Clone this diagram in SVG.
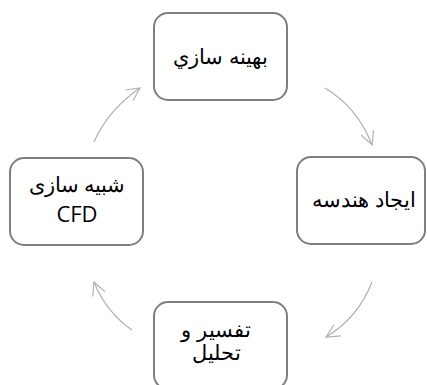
<svg xmlns="http://www.w3.org/2000/svg" width="427" height="385" viewBox="0 0 427 385">
<style>
.box{fill:#fff;stroke:#7f7f7f;stroke-width:2}
.t{font-family:"Liberation Sans",Arial,"Noto Sans",sans-serif;font-size:21px;fill:#000;text-anchor:middle}
.e{font-family:"Open Sans","Liberation Sans",sans-serif;font-size:22px;fill:#000;text-anchor:middle}
.c{fill:none;stroke:#b0b0b0;stroke-width:1.2;marker-end:url(#ah)}
</style>
<defs>
<marker id="ah" viewBox="-14 -8 16 16" markerWidth="16" markerHeight="16" refX="0" refY="0" orient="auto" markerUnits="userSpaceOnUse">
<path d="M-13 -6.5 L0 0 L-13 6.5" fill="none" stroke="#b0b0b0" stroke-width="1.2"/>
</marker>
</defs>
<rect width="427" height="385" fill="#fff"/>
<g id="connectors">
<path class="c" d="M94 142 Q108 110 140 88"/>
<path class="c" d="M325 88 Q358 108 372 145"/>
<path class="c" d="M372 282 Q358 318 326 337"/>
<path class="c" d="M132 330 Q106 312 94 282"/>
</g>
<g id="n1"><rect class="box" x="154" y="13" width="133" height="87" rx="14"/><text class="t" x="220.5" y="64" direction="rtl" unicode-bidi="embed">بهينه سازي</text></g>
<g id="n2"><rect class="box" x="297" y="157" width="128" height="87" rx="14"/><text class="t" x="364" y="207" direction="rtl" unicode-bidi="embed">ايجاد هندسه</text></g>
<g id="n3"><rect class="box" x="154" y="302" width="133" height="87" rx="14"/><text class="t" x="216" y="337" direction="rtl" unicode-bidi="embed">تفسير و</text><text class="t" x="216" y="360" direction="rtl" unicode-bidi="embed">تحليل</text></g>
<g id="n4"><rect class="box" x="10" y="158" width="133" height="87" rx="14"/><text class="t" x="77" y="192" direction="rtl" unicode-bidi="embed">شبيه سازی</text><text class="e" x="77" y="222">CFD</text></g>
</svg>
